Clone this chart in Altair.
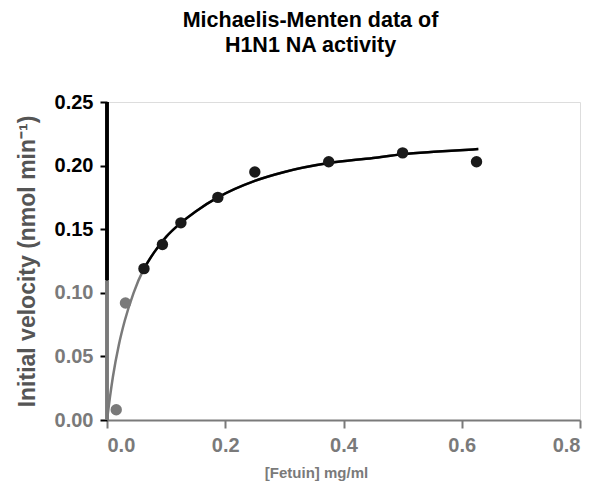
import altair as alt
import pandas as pd

# Measured data points
conc = [0.0156, 0.03125, 0.0625, 0.09375, 0.125, 0.1875, 0.25, 0.375, 0.5, 0.625]
velocity = [0.008, 0.092, 0.119, 0.138, 0.155, 0.175, 0.195, 0.203, 0.210, 0.203]

# Fitted curve
curve_x = [0.0, 0.005, 0.01, 0.02, 0.03, 0.045, 0.0625, 0.08, 0.1, 0.125, 0.15, 0.1875,
           0.25, 0.3, 0.375, 0.45, 0.5, 0.56, 0.628]
curve_y = [0.0, 0.018, 0.034, 0.059, 0.078, 0.100, 0.119, 0.132, 0.144, 0.155, 0.164, 0.175,
           0.188, 0.195, 0.202, 0.206, 0.209, 0.211, 0.213]

x_ticks = [0.0, 0.2, 0.4, 0.6, 0.8]
y_ticks = [0.0, 0.05, 0.10, 0.15, 0.20, 0.25]

pts = pd.DataFrame({"x": conc, "y": velocity})
pts["tone"] = ["low" if v < 0.1 else "high" for v in velocity]
crv = pd.DataFrame({"x": curve_x, "y": curve_y})

FONT = "Liberation Sans"
GREY = "#7a7a7a"

xscale = alt.Scale(domain=[0, 0.8], nice=False, zero=True)
yscale = alt.Scale(domain=[0, 0.25], nice=False, zero=True)

xaxis = alt.Axis(
    values=x_ticks, format=".1f", title="[Fetuin] mg/ml", grid=False,
    domainColor=GREY, domainWidth=2, tickColor=GREY, tickSize=8, tickWidth=2,
    labelColor=GREY, labelPadding=7, labelFont=FONT, labelFontSize=20, labelFontWeight="bold",
    titleColor=GREY, titleX=209, titleY=45, titleAnchor="middle",
)
yaxis = alt.Axis(
    values=y_ticks, format=".2f", title="Initial velocity (nmol min⁻¹)", grid=False,
    domain=False, tickColor="black", tickSize=7, tickWidth=2,
    labelFont=FONT, labelFontSize=20, labelFontWeight="bold",
    labelColor=alt.expr(f"datum.value >= 0.15 ? 'black' : '{GREY}'"),
    labelPadding=7, titleColor="#555555", titlePadding=15,
)

X = alt.X("x:Q", scale=xscale, axis=xaxis)
Y = alt.Y("y:Q", scale=yscale, axis=yaxis)

curve_grey = alt.Chart(crv).mark_line(color=GREY, strokeWidth=2.5, interpolate="monotone").encode(x=X, y=Y)
curve_black = alt.Chart(crv).transform_filter("datum.y >= 0.11").mark_line(
    color="black", strokeWidth=2.5, interpolate="monotone"
).encode(x=X, y=Y)

points = alt.Chart(pts).mark_circle(size=130, opacity=1).encode(
    x=X, y=Y,
    color=alt.Color("tone:N", scale=alt.Scale(domain=["low", "high"], range=[GREY, "#1a1a1a"]), legend=None),
)

ydom_grey = alt.Chart(pts).mark_rule(color=GREY, strokeWidth=2.5).encode(
    x=alt.value(0), y=alt.datum(0, scale=yscale), y2=alt.datum(0.11)
)
ydom_black = alt.Chart(pts).mark_rule(color="black", strokeWidth=2.5).encode(
    x=alt.value(0), y=alt.datum(0.11, scale=yscale), y2=alt.datum(0.25)
)

chart = alt.layer(curve_grey, curve_black, points, ydom_grey, ydom_black).properties(
    width=473, height=318,
    autosize=alt.AutoSizeParams(type="none"),
    padding={"left": 99, "top": 94, "right": 12, "bottom": 66},
    title=alt.TitleParams(
        text=["Michaelis-Menten data of", "H1N1 NA activity"],
        font=FONT, fontSize=21.5, fontWeight="bold", color="black",
        anchor="middle", dx=-33, offset=36, lineHeight=25,
    ),
).configure_view(stroke=None).configure(background="white").configure_axis(
    titleFont=FONT, titleFontWeight="bold",
).configure_axisX(titleFontSize=15).configure_axisY(titleFontSize=23)

chart.save("out.html", embed_options={"renderer": "svg", "actions": False})
